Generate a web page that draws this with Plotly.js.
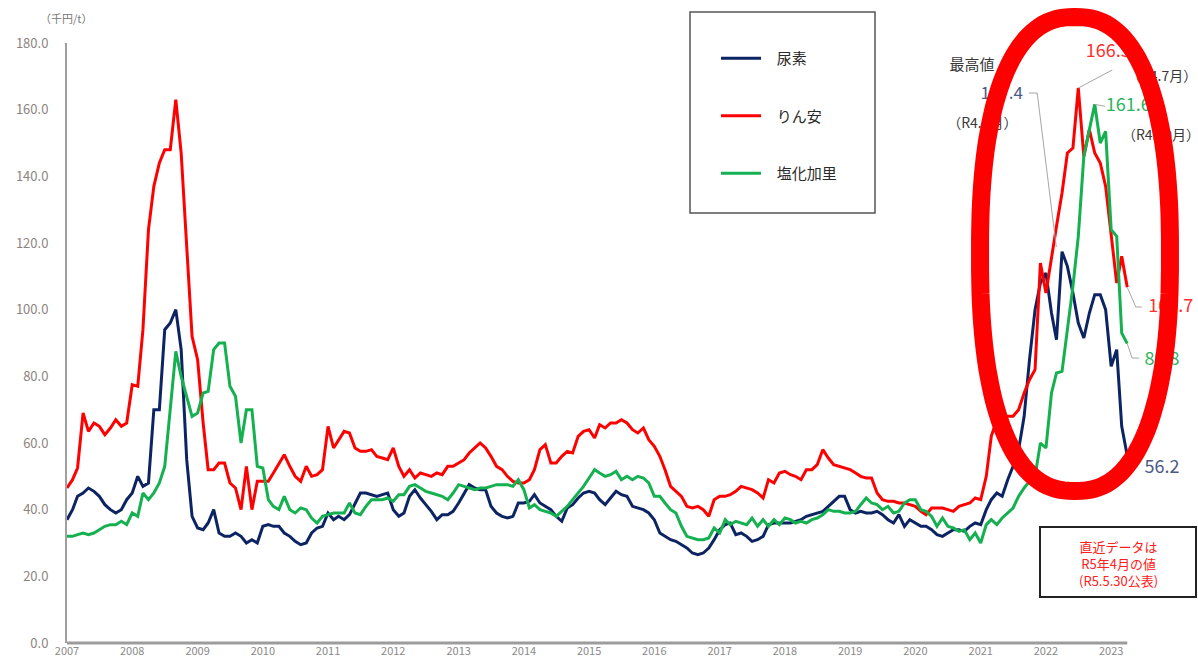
<!DOCTYPE html>
<html><head><meta charset="utf-8">
<script src="https://cdn.plot.ly/plotly-3.0.1.min.js"></script>
<style>html,body{margin:0;padding:0;background:#fff}#chart{width:1198px;height:665px}</style>
</head><body><div id="chart"></div>
<script>
// ---- data ----
const seriesNames = ['尿素', 'りん安', '塩化加里'];
const startYear = 2007;
const yearLabels = ['2007','2008','2009','2010','2011','2012','2013','2014','2015','2016','2017','2018','2019','2020','2021','2022','2023'];
const yUnit = '（千円/t）';
const urea = [
 37,40,44,45,46.5,45.5,44,41.5,40,39,40,43,
 45,50,47,48,70,70,94,96,100,88,55,38,
 34.5,34,36,40,33,32,32,33,32,30,31,30,
 35,35.5,35,35,33,32,30.5,29.5,30,33,34.5,35,
 39,37,38,37,38.5,42,45,45,44.5,44,44.5,45,
 40,38,39,44,46,43.5,41.5,39.5,37,38.5,38.5,39.5,
 42,45,47.5,46.5,46,46,41,39,38,37.5,38,42,
 42,42.5,44.5,42,41,40,38,36.5,40.5,41.5,43.5,45,
 45.5,45,43,41.5,43.5,45.5,44.5,44,41,40.5,40,39,
 37,33,32,31,30.5,29.5,28.5,27,26.5,27,28.5,31,
 34,35.5,36,32.5,33,32,30.5,31,32,35.5,36,36,
 36,36,36.5,37,38,38.5,39,39.5,41,42.5,44,44,
 40,39,39.5,39,39,39.5,38.5,37,36,38.5,35,37,
 36,35,35,34,32.5,32,33,34,34,33.5,35,36,
 35.5,40,43,45,44,49,53,58,68,85,100,108,
 111,99,91,117.4,113,105,96,91.5,99,104.5,104.5,100,
 83,88,65,56.2
];
const dap = [
 46.5,49,52.5,69,63.5,66,65,62.5,64.5,67,65,66,
 77.5,77,94,124,137,144,148,148,163,147,119,92,
 85,66,52,52,54,54,48,46.5,40,53,40,48.5,
 48.5,48.5,51,54,56.5,53,50,48.5,53,50,50.5,52,
 65,58.5,61,63.5,63,58.5,57.5,57.5,58,56,55.5,55,
 58.5,53,50,52,49.5,51,50.5,50,51,50.5,53,53,
 54,55,57,58.5,60,58.5,56,53,52,50,48.5,48,
 48,49,52,58,59.5,54,54,56,57.5,57,62,63.5,
 64,61.5,65.5,64.5,66,66,67,66,64,63,64.5,61,
 59,56,52,47,45.5,44,41,40.5,41,40,38,43,
 44,44,44.5,45.5,47,46.5,46,45,43.5,49,48,51,
 51.5,50.5,50,49,52,52,53.5,58,55.5,53.5,53,52.5,
 52,51,50,49.5,49.5,45,43,42.5,42.5,42,42,41.5,
 41,39.5,38.5,40.5,40.5,40.5,40,39.5,41,41.5,42,43.5,
 43,50,62,67,67.5,68,68,70,75,79,82,114,
 105,116,125,135,147,148.5,166.5,146,154,147,144,137,
 122,108,116,106.7
];
const potash = [
 32,32,32.5,33,32.5,33,34,35,35.5,35.5,36.5,35.5,
 39,38,45,43,45,48,53,70,87.5,80,74,68,
 69,75,75.5,88,90,90,77,74,60,70,70,53,
 52.5,43,41,40,44,40,39,40.5,40,37.5,36,38,
 38.5,39,39,39,42,39,38.5,41,43,43,43,43.5,
 42.5,44.5,44.5,47,47.5,46.5,45.5,45,44.5,44,43,45,
 47.5,47,46.5,46,46.5,46.5,47,47.5,47.5,47.5,47,49,
 46,40.5,41.5,40,39.5,39,38,39.5,41,43,45,47,
 49.5,52,51,50,50.5,51.5,49,50,49,50,49.5,48,
 44,44,42,40,39,35,32,31.5,31,31,31.5,34.5,
 33,37,35.5,36.5,36,35.5,37.5,35,37,35,37,35.5,
 37.5,37,36,36.5,36,37,37.5,38.5,40,39.5,39.5,39,
 39,39.5,41.5,43.5,42,41.5,40,41,39,39.5,42,43,
 43,40,39.5,38,35,37.5,35,34.5,33.5,34,31,33,
 30,35.5,37,35.5,37.5,39,40.5,44,46.5,48.5,50,60,
 58.5,75,81,81.5,94,107,122,146,154,161.6,150,153.5,
 124,122,93,89.8
];
const noteLines = ['直近データは', 'R5年4月の値', '(R5.5.30公表)'];
const peakHeading = '最高値';

// ---- helpers ----
function monthDate(m) {
  const mi = Math.floor(m), frac = m - mi;
  const d = new Date(Date.UTC(startYear, mi, 1 + Math.round(frac * 30)));
  return d.toISOString().slice(0, 10);
}
const months = urea.map((_, i) => monthDate(i));
function peakIndex(arr) { let k = 0; arr.forEach((v, i) => { if (v > arr[k]) k = i; }); return k; }
function reiwa(i) { return '（R' + (startYear + Math.floor(i / 12) - 2018) + '.' + (i % 12 + 1) + '月）'; }
function recentPeak(arr) { const off = 156; return off + peakIndex(arr.slice(off)); }

const colors = ['#0d2463', '#ff0000', '#15b04f'];
const seriesData = [urea, dap, potash];
const pk = seriesData.map(recentPeak);
const last = urea.length - 1;
const legendPad = '\u2002\u00a0';

const traces = seriesData.map((arr, k) => ({
  type: 'scatter', mode: 'lines', x: months, y: arr, name: legendPad + seriesNames[k],
  legendgroup: 'g' + k, line: {color: colors[k], width: 3}, hoverinfo: 'skip'
}));

// leader lines
const lead = {color: '#a6a6a6', width: 1};
const leaders = [
  {x: [monthDate(176.9), monthDate(178.4), monthDate(181.9)], y: [165, 165, 118.8]},
  {x: [months[pk[1]], monthDate(192.2)], y: [dap[pk[1]], 171.9]},
  {x: [months[pk[2]], monthDate(190.9)], y: [potash[pk[2]], 161]},
  {x: [months[last], monthDate(196.6), monthDate(197.7)], y: [dap[last], 100.8, 100.8]},
  {x: [months[last], monthDate(195.9), monthDate(197.2)], y: [potash[last], 85.5, 85.5]}
].map(o => Object.assign({type: 'scatter', mode: 'lines', line: lead, showlegend: false, hoverinfo: 'skip', cliponaxis: false}, o));

// label texts (drawn as text traces so the ring can cover them)
const dark = '#3a3a3a', slate = '#4c5a86';
const labels = [
  {m: 166.4, v: 173.1, t: peakHeading, c: dark, s: 15},
  {m: 171.9, v: 164.4, t: urea[pk[0]].toFixed(1), c: slate, s: 17},
  {m: 168.3, v: 155.7, t: reiwa(pk[0]), c: dark, s: 14},
  {m: 189.0, v: 186.3, t: peakHeading, c: dark, s: 15},
  {m: 191.5, v: 177.3, t: dap[pk[1]].toFixed(1), c: '#ff3030', s: 18},
  {m: 201.4, v: 169.8, t: reiwa(pk[1]), c: dark, s: 14},
  {m: 195.2, v: 161.1, t: potash[pk[2]].toFixed(1), c: '#2db35d', s: 18},
  {m: 201.2, v: 152.1, t: reiwa(pk[2]), c: dark, s: 14},
  {m: 203.0, v: 100.8, t: dap[last].toFixed(1), c: '#ff3030', s: 18},
  {m: 201.4, v: 84.9, t: potash[last].toFixed(1), c: '#2db35d', s: 18},
  {m: 201.4, v: 52.5, t: urea[last].toFixed(1), c: slate, s: 18}
];
const labelTrace = {
  type: 'scatter', mode: 'text', showlegend: false, hoverinfo: 'skip', cliponaxis: false,
  x: labels.map(l => monthDate(l.m)), y: labels.map(l => l.v), text: labels.map(l => l.t),
  textposition: 'middle center',
  textfont: {family: 'Noto Sans CJK JP', color: labels.map(l => l.c), size: labels.map(l => l.s)}
};

// ---- geometry of the frame ----
const W = 1198, H = 665, ML = 67, MT = 43, MB = 22;
const PW = W - ML, PH = H - MT - MB;
const px2x = p => (p - ML) / PW;
const px2y = p => (H - MB - p) / PH;
function ringPath(cx, cy, a, b, n) {
  const pts = [];
  for (let i = 0; i <= 160; i++) {
    const t = 2 * Math.PI * i / 160, c = Math.cos(t), s = Math.sin(t);
    const x = cx + a * Math.sign(c) * Math.pow(Math.abs(c), 2 / n);
    const y = cy + b * Math.sign(s) * Math.pow(Math.abs(s), 2 / n);
    pts.push(px2x(x).toFixed(4) + ',' + px2y(y).toFixed(4));
  }
  return 'M' + pts.join('L') + 'Z';
}

const layout = {
  width: W, height: H,
  margin: {l: ML, r: 0, t: MT, b: MB},
  paper_bgcolor: '#fff', plot_bgcolor: '#fff',
  font: {family: 'Noto Sans CJK JP', color: '#333'},
  hovermode: false,
  showlegend: true,
  legend: {x: px2x(716), y: px2y(42), xanchor: 'left', yanchor: 'top', bgcolor: 'rgba(0,0,0,0)', borderwidth: 0,
           font: {size: 15, color: '#2a2a2a'}, tracegroupgap: 35, itemwidth: 40},
  xaxis: {type: 'date', range: [months[0], monthDate(208)], showgrid: false, zeroline: false,
          showline: false, ticks: '',
          tickvals: yearLabels.map(y => y + '-01-01'), ticktext: yearLabels,
          tickfont: {size: 11, color: '#8a8a8a'}, fixedrange: true},
  yaxis: {range: [0, 180], dtick: 20, tick0: 0, tickformat: '.1f', showgrid: false, zeroline: false,
          showline: true, linecolor: '#a0a0a0', linewidth: 2, ticks: '', ticklabelstandoff: 14,
          tickfont: {size: 13, color: '#8c8480'}, fixedrange: true},
  shapes: [
    {type: 'line', xref: 'x', yref: 'paper', x0: months[0], x1: months[last], y0: 0, y1: 0,
     line: {color: '#9c9c9c', width: 3}, layer: 'below'},
    {type: 'rect', xref: 'paper', yref: 'paper', x0: px2x(690), x1: px2x(875), y0: px2y(213), y1: px2y(12),
     line: {color: '#555', width: 1.5}, fillcolor: 'rgba(0,0,0,0)', layer: 'above'},
    {type: 'rect', xref: 'paper', yref: 'paper', x0: px2x(1040), x1: px2x(1196), y0: px2y(597), y1: px2y(527),
     line: {color: '#222', width: 2}, fillcolor: 'rgba(0,0,0,0)', layer: 'above'},
    {type: 'path', xref: 'paper', yref: 'paper', path: ringPath(1075, 254, 95, 237, 2.4),
     line: {color: '#ff0000', width: 18}, fillcolor: 'rgba(0,0,0,0)', layer: 'above'}
  ],
  annotations: [
    {xref: 'paper', yref: 'paper', x: px2x(66), y: px2y(18), text: yUnit, showarrow: false,
     font: {size: 11, color: '#777'}, xanchor: 'center', yanchor: 'middle'},
    {xref: 'paper', yref: 'paper', x: px2x(1118), y: px2y(563), text: noteLines.join('<br>'), showarrow: false,
     font: {size: 13, color: '#ff2020'}, align: 'center', xanchor: 'center', yanchor: 'middle'}
  ]
};

Plotly.newPlot('chart', traces.concat(leaders, [labelTrace]), layout, {staticPlot: true, displayModeBar: false});
</script></body></html>
